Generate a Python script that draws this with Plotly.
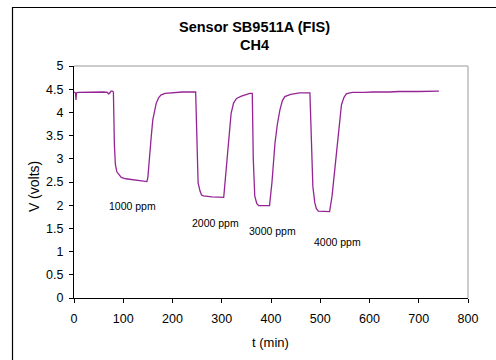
import plotly.graph_objects as go

t_min = [0, 3, 4, 5, 8, 30, 60, 68, 70, 72, 75, 78, 80, 82, 84, 87, 92, 96, 105, 120, 135, 148, 150, 153, 157, 160, 164, 167, 172, 177, 185, 201, 220, 247,
         249, 252, 256, 259, 263, 280, 304, 306, 309, 314, 319, 324, 330, 340, 357, 362,
         364, 367, 371, 375, 385, 397, 402, 408, 413, 418, 423, 428, 440, 458, 479,
         482, 485, 489, 492, 496, 505, 519, 524, 529, 534, 538, 539, 543, 548, 553, 560, 566, 590, 607, 640, 660, 700, 741]
v_volts = [4.44, 4.42, 4.27, 4.42, 4.43, 4.44, 4.44, 4.43, 4.40, 4.41, 4.46, 4.46, 4.44, 3.30, 2.88, 2.72, 2.64, 2.60, 2.57, 2.55, 2.53, 2.51, 2.60, 3.05, 3.50, 3.84, 4.05, 4.20, 4.32, 4.38, 4.41, 4.43, 4.44, 4.44,
           3.50, 2.48, 2.30, 2.22, 2.20, 2.18, 2.17, 2.40, 2.76, 3.40, 3.98, 4.20, 4.30, 4.35, 4.41, 4.41,
           3.00, 2.20, 2.04, 1.99, 1.99, 1.99, 2.50, 3.33, 3.75, 4.05, 4.25, 4.34, 4.39, 4.42, 4.42,
           3.50, 2.40, 2.05, 1.93, 1.87, 1.86, 1.86, 2.20, 2.76, 3.30, 3.76, 3.82, 4.16, 4.32, 4.40, 4.42, 4.43, 4.43, 4.44, 4.44, 4.45, 4.45, 4.46]

label_text = ["1000 ppm", "2000 ppm", "3000 ppm", "4000 ppm"]
label_t = [119, 288, 403, 535]
label_v = [1.99, 1.62, 1.45, 1.21]

x_ticks = [0, 100, 200, 300, 400, 500, 600, 700, 800]
y_ticks = [0, 0.5, 1, 1.5, 2, 2.5, 3, 3.5, 4, 4.5, 5]

FAM = "Liberation Sans, Arial"

fig = go.Figure()
fig.add_trace(go.Scatter(x=t_min, y=v_volts, mode="lines",
                         line=dict(color="#952595", width=1.3), showlegend=False))

for txt, tx, vy in zip(label_text, label_t, label_v):
    fig.add_annotation(x=tx, y=vy, text=txt, showarrow=False, xanchor="center", yanchor="middle",
                       font=dict(size=10.5, color="black", family=FAM))

# titles as paper annotations
paper_text = [
    ("<b>Sensor SB9511A (FIS)</b>", 0.459, 1.168, 14.5, 0),
    ("<b>CH4</b>", 0.459, 1.0905, 14.5, 0),
    ("t (min)", 0.499, -0.19, 13, 0),
    ("V (volts)", -0.1015, 0.478, 14, -90),
]
for txt, px, py, sz, ang in paper_text:
    fig.add_annotation(xref="paper", yref="paper", x=px, y=py, text=txt, textangle=ang,
                       xanchor="center", yanchor="middle", showarrow=False,
                       font=dict(size=sz, family=FAM, color="black"))

fig.update_layout(
    width=496, height=360,
    margin=dict(l=74, r=28, t=66, b=62),
    paper_bgcolor="white", plot_bgcolor="white",
    font=dict(family=FAM, size=12.5, color="black"),
    xaxis=dict(range=[0, 800], tickvals=x_ticks, ticks="outside", ticklen=4, tickcolor="black",
               showline=True, linecolor="black", linewidth=1, showgrid=False, zeroline=False,
               automargin=False, ticklabelstandoff=5, tickfont=dict(size=12.5)),
    yaxis=dict(range=[0, 5], tickvals=y_ticks, ticktext=[str(v) for v in y_ticks],
               ticks="outside", ticklen=4, tickcolor="black",
               showline=True, linecolor="black", linewidth=1, showgrid=False, zeroline=False,
               automargin=False, ticklabelstandoff=3, tickfont=dict(size=12.5)),
    shapes=[
        dict(type="line", xref="paper", yref="paper", x0=0, x1=1, y0=1, y1=1,
             line=dict(color="#BBBBBB", width=1.5), layer="below"),
        dict(type="line", xref="paper", yref="paper", x0=1, x1=1, y0=0, y1=1,
             line=dict(color="#BBBBBB", width=1.5), layer="below"),
        dict(type="rect", xref="paper", yref="paper", x0=(12.5 - 74) / 394, x1=1.2,
             y0=-0.5, y1=(298 - 7.5) / 232, line=dict(color="black", width=1.2), fillcolor="rgba(0,0,0,0)"),
    ],
)

fig.write_html("out.html", config={"displayModeBar": False},
               post_script="document.body.style.margin='0';")
